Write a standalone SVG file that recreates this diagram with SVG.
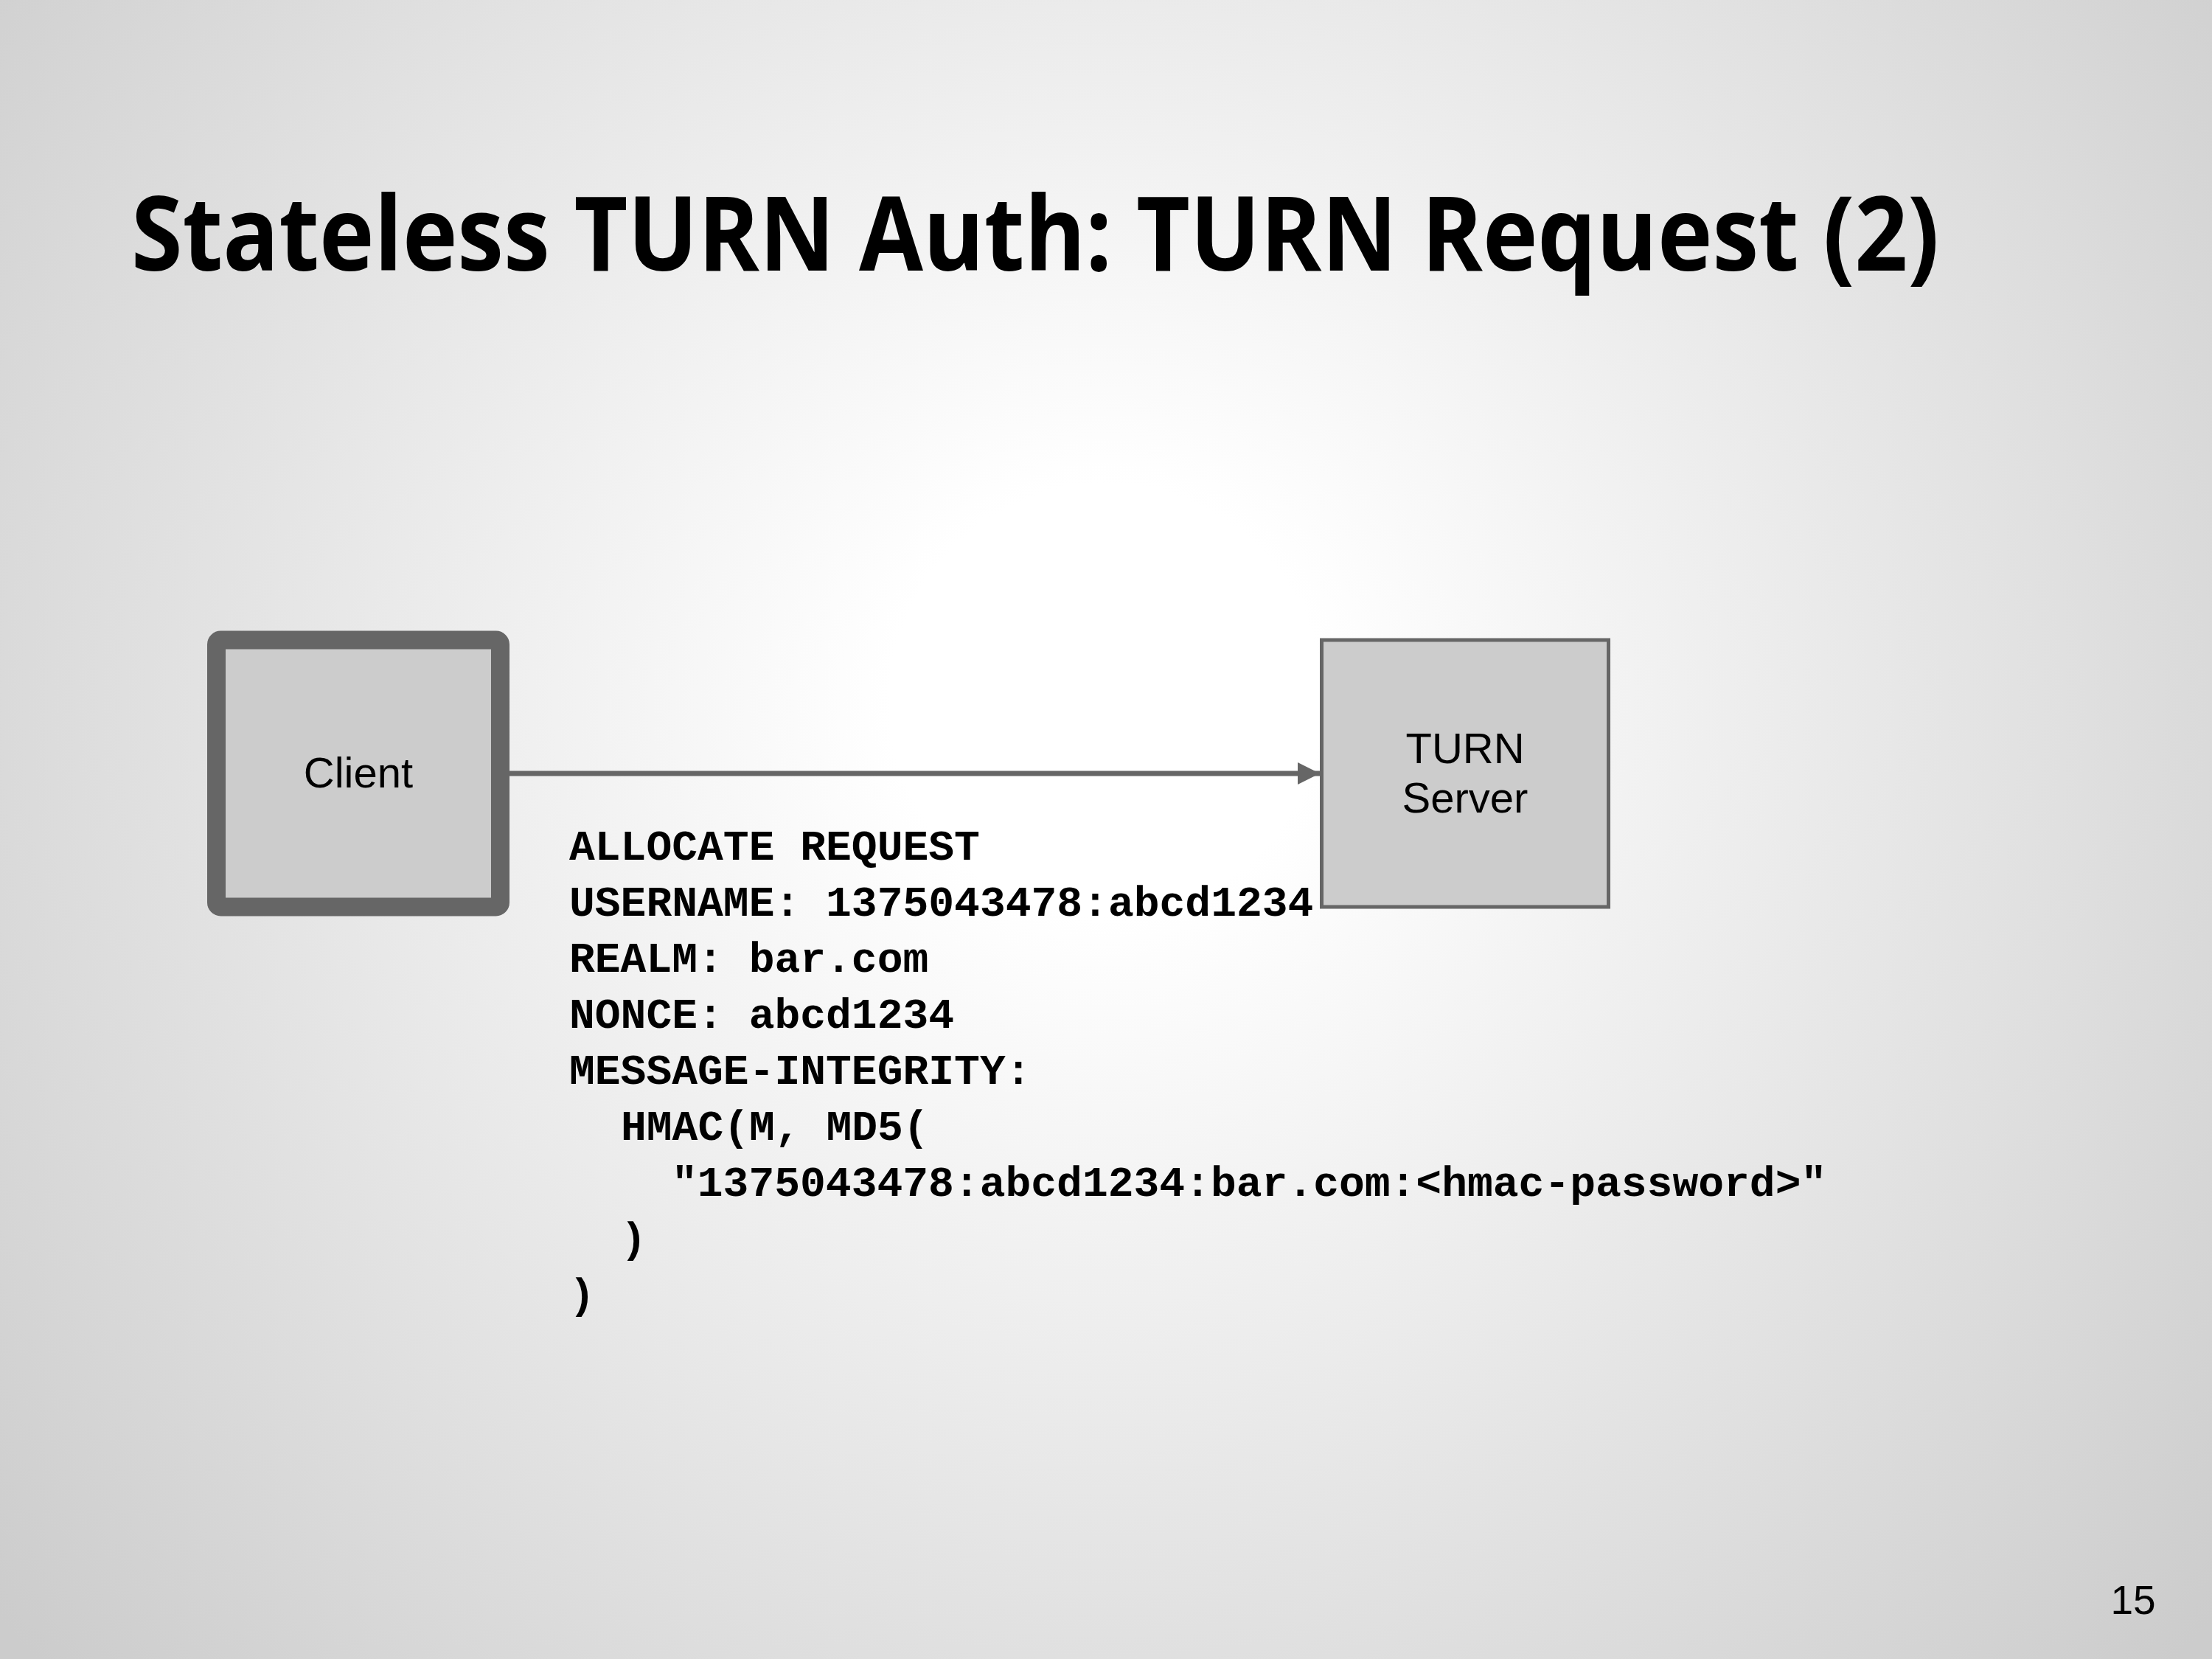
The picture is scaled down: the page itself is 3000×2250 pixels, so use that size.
<svg xmlns="http://www.w3.org/2000/svg" width="3000" height="2250" viewBox="0 0 3000 2250">
  <style>
    .title { font-family: "Open Sans", "Liberation Sans", sans-serif; font-weight: 700; font-size: 140px; fill: #000000; }
    .box { fill: #cccccc; stroke: #666666; }
    .label { font-family: "Liberation Sans", Arial, sans-serif; font-size: 58px; fill: #000000; text-anchor: middle; }
    .mono { font-family: "Liberation Mono", "Courier New", monospace; font-weight: 700; font-size: 58px; fill: #000000; }
    .conn { stroke: #666666; stroke-width: 7; fill: none; }
    .pagenum { font-family: "Liberation Sans", Arial, sans-serif; font-size: 55px; fill: #000000; text-anchor: middle; }
  </style>
  <defs>
    <radialGradient id="bg" gradientUnits="userSpaceOnUse" cx="1500" cy="950" r="1950">
      <stop offset="0" stop-color="#ffffff"/>
      <stop offset="0.15" stop-color="#ffffff"/>
      <stop offset="1" stop-color="#cccccc"/>
    </radialGradient>
    <marker id="arrow" viewBox="0 0 10 10" refX="10" refY="5" markerUnits="userSpaceOnUse" markerWidth="41" markerHeight="30" orient="auto">
      <path d="M0,0 L10,5 L0,10 Z" fill="#666666"/>
    </marker>
  </defs>
  <rect x="0" y="0" width="3000" height="2250" fill="url(#bg)"/>
  <text class="title" x="178" y="367" textLength="2452" lengthAdjust="spacingAndGlyphs">Stateless TURN Auth: TURN Request (2)</text>

  <g id="connectors">
    <line class="conn" x1="691" y1="1049" x2="1790" y2="1049" marker-end="url(#arrow)"/>
  </g>

  <g id="client">
    <rect class="box" x="293.5" y="868" width="385" height="362" rx="6" stroke-width="25"/>
    <text class="label" x="486" y="1068">Client</text>
  </g>

  <g id="turn-server">
    <rect class="box" x="1792.5" y="868" width="389" height="362" stroke-width="5"/>
    <text class="label" x="1987" y="1035">TURN</text>
    <text class="label" x="1987" y="1102">Server</text>
  </g>

  <g id="message">
    <text class="mono" x="772" y="1166">ALLOCATE REQUEST</text>
    <text class="mono" x="772" y="1242">USERNAME: 1375043478:abcd1234</text>
    <text class="mono" x="772" y="1318">REALM: bar.com</text>
    <text class="mono" x="772" y="1394">NONCE: abcd1234</text>
    <text class="mono" x="772" y="1470">MESSAGE-INTEGRITY:</text>
    <text class="mono" x="842" y="1546">HMAC(M, MD5(</text>
    <text class="mono" x="911" y="1622">"1375043478:abcd1234:bar.com:&lt;hmac-password&gt;"</text>
    <text class="mono" x="842" y="1698">)</text>
    <text class="mono" x="772" y="1774">)</text>
  </g>

  <text class="pagenum" x="2893" y="2189">15</text>
</svg>
